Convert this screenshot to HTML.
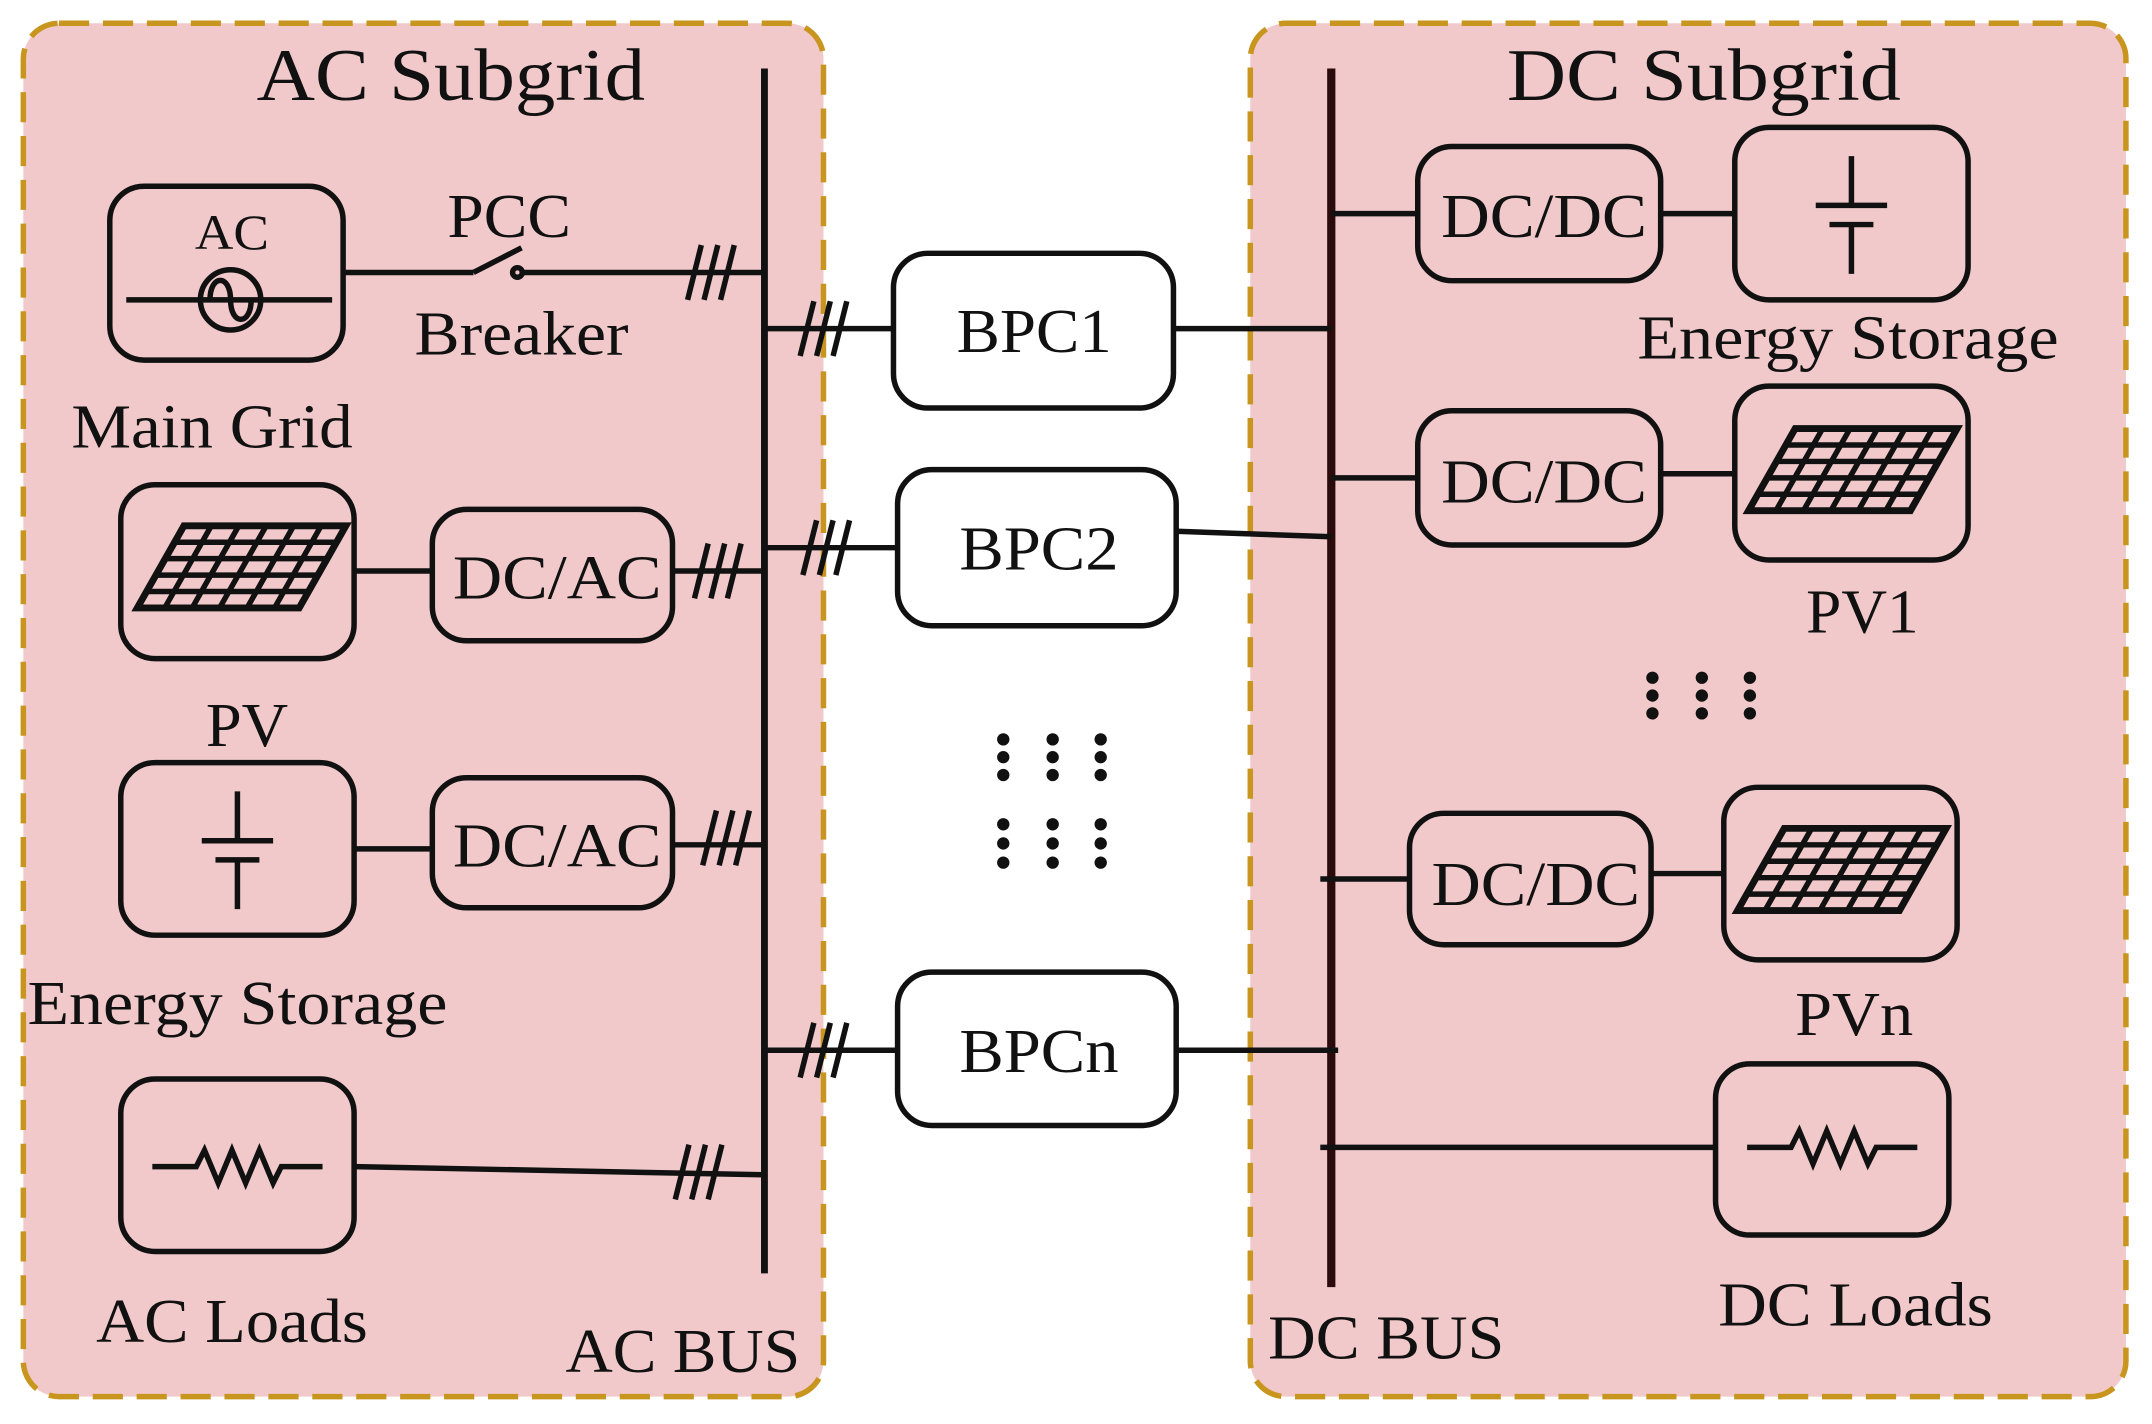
<!DOCTYPE html>
<html><head><meta charset="utf-8"><style>
html,body{margin:0;padding:0;background:#fff}
svg{display:block}
text{font-family:"Liberation Serif",serif;fill:#111}
</style></head><body>
<svg width="2152" height="1424" viewBox="0 0 1568 1040" preserveAspectRatio="none" xmlns="http://www.w3.org/2000/svg">
<defs>
<g id="pv">
 <path d="M34 0 L152 0 L118 60 L0 60 Z" fill="none" stroke="#111" stroke-width="5"/>
 <path d="M27 12 L145 12 M20 24 L138 24 M13 36 L131 36 M7 48 L124 48" stroke="#111" stroke-width="4"/>
 <path d="M54 0 L20 60 M74 0 L40 60 M94 0 L60 60 M114 0 L80 60 M134 0 L100 60" stroke="#111" stroke-width="4"/>
</g>
<g id="bat" stroke="#111" stroke-width="4" fill="none">
 <path d="M0 -36 V0 M-26 0 H26 M-16 14 H16 M0 14 V50"/>
</g>
<g id="res" stroke="#111" stroke-width="4" fill="none">
 <path d="M-62 0 H-30 L-24 -12 L-14 12 L-4 -12 L6 12 L16 -12 L26 12 L32 0 H62"/>
</g>
<g id="sl" stroke="#111" stroke-width="4">
 <path d="M-12 20 L-2 -20 M0 20 L10 -20 M12 20 L22 -20"/>
</g>
</defs>
<g fill="#f1c9ca" stroke="#c8961e" stroke-width="4" stroke-dasharray="22 10">
 <rect x="17" y="17" width="583" height="1003" rx="26"/>
 <rect x="911" y="17" width="638" height="1003" rx="26"/>
</g>
<text x="187" y="73" font-size="54" textLength="283" lengthAdjust="spacingAndGlyphs">AC Subgrid</text>
<text x="1098" y="73" font-size="54" textLength="287" lengthAdjust="spacingAndGlyphs">DC Subgrid</text>

<line x1="557" y1="50" x2="557" y2="930" stroke="#111" stroke-width="5"/>
<line x1="970" y1="50" x2="970" y2="940" stroke="#2a0a0a" stroke-width="6"/>

<g stroke="#111" stroke-width="4" fill="none">
 <rect x="80" y="136" width="170" height="127" rx="25" fill="#f1c9ca"/>
 <line x1="92" y1="219" x2="242" y2="219"/>
 <circle cx="168" cy="219" r="22"/>
 <path d="M153 219 C153 200 168 200 168 219 C168 238 183 238 183 219"/>
 <line x1="250" y1="199" x2="345" y2="199"/>
 <line x1="345" y1="199" x2="380" y2="181"/>
 <circle cx="377" cy="199" r="3.5"/>
 <line x1="381" y1="199" x2="557" y2="199"/>
 <rect x="88" y="354" width="170" height="127" rx="25" fill="#f1c9ca"/>
 <rect x="315" y="372" width="175" height="96" rx="25" fill="#f1c9ca"/>
 <line x1="258" y1="417" x2="315" y2="417"/>
 <line x1="490" y1="417" x2="557" y2="417"/>
 <rect x="88" y="557" width="170" height="126" rx="25" fill="#f1c9ca"/>
 <rect x="315" y="568" width="175" height="95" rx="25" fill="#f1c9ca"/>
 <line x1="258" y1="620" x2="315" y2="620"/>
 <line x1="490" y1="617" x2="557" y2="617"/>
 <rect x="88" y="788" width="170" height="126" rx="25" fill="#f1c9ca"/>
 <line x1="258" y1="852" x2="557" y2="858"/>
 <rect x="651" y="185" width="204" height="113" rx="25" fill="#fff"/>
 <rect x="654" y="343" width="203" height="114" rx="25" fill="#fff"/>
 <rect x="654" y="710" width="203" height="112" rx="25" fill="#fff"/>
 <line x1="557" y1="240" x2="651" y2="240"/>
 <line x1="855" y1="240" x2="970" y2="240"/>
 <line x1="557" y1="400" x2="654" y2="400"/>
 <line x1="857" y1="388" x2="970" y2="392"/>
 <line x1="557" y1="767" x2="654" y2="767"/>
 <line x1="857" y1="767" x2="975" y2="767"/>
 <rect x="1033" y="107" width="177" height="98" rx="25" fill="#f1c9ca"/>
 <rect x="1264" y="93" width="170" height="126" rx="25" fill="#f1c9ca"/>
 <line x1="970" y1="156" x2="1033" y2="156"/>
 <line x1="1210" y1="156" x2="1264" y2="156"/>
 <rect x="1033" y="300" width="177" height="98" rx="25" fill="#f1c9ca"/>
 <rect x="1264" y="282" width="170" height="127" rx="25" fill="#f1c9ca"/>
 <line x1="970" y1="349" x2="1033" y2="349"/>
 <line x1="1210" y1="346" x2="1264" y2="346"/>
 <rect x="1027" y="594" width="176" height="96" rx="25" fill="#f1c9ca"/>
 <rect x="1256" y="575" width="170" height="126" rx="25" fill="#f1c9ca"/>
 <line x1="962" y1="642" x2="1027" y2="642"/>
 <line x1="1203" y1="638" x2="1256" y2="638"/>
 <rect x="1250" y="777" width="170" height="125" rx="25" fill="#f1c9ca"/>
 <line x1="962" y1="838" x2="1250" y2="838"/>
</g>

<use href="#sl" x="513" y="199"/>
<use href="#sl" x="595" y="240"/>
<use href="#sl" x="518" y="417"/>
<use href="#sl" x="597" y="400"/>
<use href="#sl" x="524" y="612"/>
<use href="#sl" x="595" y="767"/>
<use href="#sl" x="504" y="856"/>

<use href="#pv" x="100" y="384"/>
<use href="#pv" x="1274" y="313"/>
<use href="#pv" x="1266" y="605"/>
<use href="#bat" x="173" y="614"/>
<use href="#bat" x="1349" y="150"/>
<use href="#res" x="173" y="852"/>
<use href="#res" x="1335" y="838"/>

<g fill="#111">
 <circle cx="731" cy="540" r="4.5"/><circle cx="767" cy="540" r="4.5"/><circle cx="802" cy="540" r="4.5"/>
 <circle cx="731" cy="553" r="4.5"/><circle cx="767" cy="553" r="4.5"/><circle cx="802" cy="553" r="4.5"/>
 <circle cx="731" cy="566" r="4.5"/><circle cx="767" cy="566" r="4.5"/><circle cx="802" cy="566" r="4.5"/>
 <circle cx="731" cy="602" r="4.5"/><circle cx="767" cy="602" r="4.5"/><circle cx="802" cy="602" r="4.5"/>
 <circle cx="731" cy="616" r="4.5"/><circle cx="767" cy="616" r="4.5"/><circle cx="802" cy="616" r="4.5"/>
 <circle cx="731" cy="630" r="4.5"/><circle cx="767" cy="630" r="4.5"/><circle cx="802" cy="630" r="4.5"/>
 <circle cx="1204" cy="495" r="4.5"/><circle cx="1240" cy="495" r="4.5"/><circle cx="1275" cy="495" r="4.5"/>
 <circle cx="1204" cy="508" r="4.5"/><circle cx="1240" cy="508" r="4.5"/><circle cx="1275" cy="508" r="4.5"/>
 <circle cx="1204" cy="521" r="4.5"/><circle cx="1240" cy="521" r="4.5"/><circle cx="1275" cy="521" r="4.5"/>
</g>

<g font-size="46" lengthAdjust="spacingAndGlyphs">
<text x="142" y="182" font-size="36" textLength="54" lengthAdjust="spacingAndGlyphs">AC</text>
<text x="326" y="173" textLength="90" lengthAdjust="spacingAndGlyphs">PCC</text>
<text x="302" y="259" textLength="156" lengthAdjust="spacingAndGlyphs">Breaker</text>
<text x="52" y="327" textLength="205" lengthAdjust="spacingAndGlyphs">Main Grid</text>
<text x="330" y="437" textLength="152" lengthAdjust="spacingAndGlyphs">DC/AC</text>
<text x="150" y="545" textLength="60" lengthAdjust="spacingAndGlyphs">PV</text>
<text x="330" y="633" textLength="152" lengthAdjust="spacingAndGlyphs">DC/AC</text>
<text x="20" y="748" textLength="306" lengthAdjust="spacingAndGlyphs">Energy Storage</text>
<text x="70" y="980" textLength="198" lengthAdjust="spacingAndGlyphs">AC Loads</text>
<text x="412" y="1002" textLength="171" lengthAdjust="spacingAndGlyphs">AC BUS</text>
<text x="697" y="257" textLength="113" lengthAdjust="spacingAndGlyphs">BPC1</text>
<text x="699" y="416" textLength="116" lengthAdjust="spacingAndGlyphs">BPC2</text>
<text x="699" y="783" textLength="116" lengthAdjust="spacingAndGlyphs">BPCn</text>
<text x="1050" y="173" textLength="150" lengthAdjust="spacingAndGlyphs">DC/DC</text>
<text x="1193" y="262" textLength="307" lengthAdjust="spacingAndGlyphs">Energy Storage</text>
<text x="1050" y="367" textLength="150" lengthAdjust="spacingAndGlyphs">DC/DC</text>
<text x="1316" y="462" textLength="82" lengthAdjust="spacingAndGlyphs">PV1</text>
<text x="1043" y="661" textLength="152" lengthAdjust="spacingAndGlyphs">DC/DC</text>
<text x="1308" y="756" textLength="86" lengthAdjust="spacingAndGlyphs">PVn</text>
<text x="1252" y="968" textLength="200" lengthAdjust="spacingAndGlyphs">DC Loads</text>
<text x="924" y="992" textLength="172" lengthAdjust="spacingAndGlyphs">DC BUS</text>
</g>
</svg>
</body></html>
